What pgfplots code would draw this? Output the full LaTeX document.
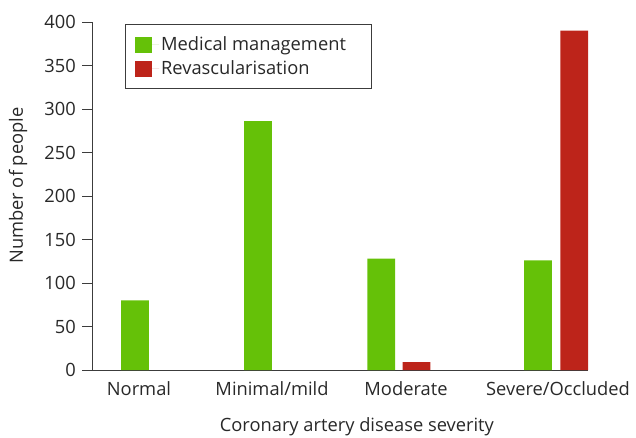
\documentclass[border=0pt]{standalone}
\usepackage{pgfplots}
\pgfplotsset{compat=1.18}
\usepackage{fontspec}
\setmainfont{Open Sans}
\definecolor{mgreen}{RGB}{101,193,8}
\definecolor{mred}{RGB}{189,36,26}
\definecolor{axgray}{RGB}{60,60,60}
\definecolor{txtgray}{RGB}{40,40,40}
\begin{document}
\fontsize{18.3}{21}\selectfont
\begin{tikzpicture}
\useasboundingbox (-92pt,-67pt) rectangle (544pt,370pt);
\begin{axis}[
  at={(0,0)}, anchor=south west,
  scale only axis,
  width=496pt, height=348pt,
  xmin=92, xmax=588, ymin=0, ymax=400,
  /pgf/number format/assume math mode=true,
  axis x line*=bottom, axis y line*=left,
  axis line style={axgray, line width=1pt},
  every tick/.style={axgray, line width=1pt},
  ytick={0,50,...,400},
  tick align=outside,
  major tick length=10pt,
  xtick={139,272,406,558},
  xticklabels={Normal,Minimal/mild,Moderate,Severe/Occluded},
  x tick style={draw=none},
  xticklabel style={anchor=base, yshift=-15pt, text=txtgray},
  yticklabel style={anchor=east, inner sep=0pt, xshift=-6pt, text=txtgray},
  every axis y label/.style={at={(axis description cs:-0.149,0.53)}, rotate=90, anchor=center, text=txtgray},
  every axis x label/.style={at={(axis description cs:0.534,-0.178)}, anchor=base, text=txtgray},
  ylabel={Number of people},
  xlabel={Coronary artery disease severity},
  bar width=27.7,
  legend style={at={(axis description cs:0.0659,0.994)}, anchor=north west,
    draw=axgray, line width=1pt, inner xsep=10pt, inner ysep=10pt,
    row sep=3pt, font=\color{txtgray}},
  legend cell align=left,
  legend image code/.code={\fill[#1] (0pt,-8pt) rectangle (16.7pt,8pt); \path (0pt,0pt) -- (24pt,0pt);},
]
\addplot[ybar, bar shift=0pt, fill=mgreen, draw=none] coordinates {(134.9,80) (257.9,286) (381.2,128) (537.9,126)};
\addlegendentry{Medical management\rule{14pt}{0pt}}
\addplot[ybar, bar shift=0pt, fill=mred, draw=none] coordinates {(416.5,9) (574.3,390)};
\addlegendentry{Revascularisation}
\end{axis}
\end{tikzpicture}
\end{document}
